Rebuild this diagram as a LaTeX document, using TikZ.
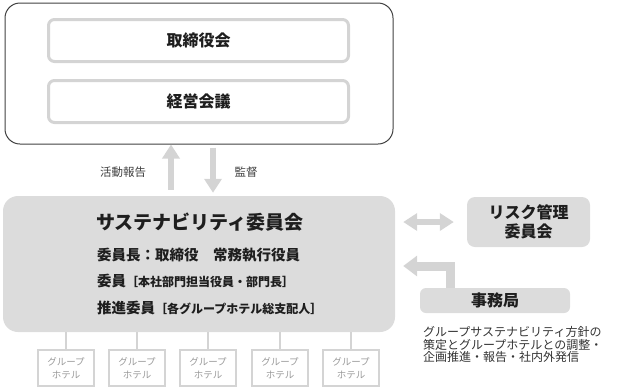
\documentclass[tikz,border=0pt]{standalone}
\usepackage{fontspec}
\setmainfont{Noto Sans CJK JP}
\usetikzlibrary{arrows.meta}
\definecolor{boxgray}{HTML}{DCDCDC}
\definecolor{linegray}{HTML}{D4D4D4}
\definecolor{textgray}{HTML}{9A9A9A}
\definecolor{ink}{HTML}{1E1E1E}
\newcommand{\fsz}[1]{\fontsize{#1}{#1}\selectfont}

\begin{document}
\begin{tikzpicture}[x=1pt, y=-1pt,
    frame/.style={draw=black!75, line width=1pt, rounded corners=15pt, minimum width=388pt, minimum height=141pt},
    meeting/.style={draw=linegray, line width=3pt, rounded corners=6pt, fill=white, minimum width=300pt, minimum height=42pt, font=\fsz{16}\bfseries, text=ink},
    panel/.style={fill=boxgray, rounded corners=15pt, inner sep=0pt},
    hotel/.style={draw=linegray, line width=2.5pt, fill=white, minimum width=56pt, minimum height=36pt, align=center, font=\fontsize{9.5}{13}\selectfont, text=textgray, inner sep=0pt},
    fatarrow/.style={-{Triangle[width=17pt,length=14pt]}, line width=6pt, draw=linegray},
    member/.style={anchor=west, inner sep=0pt, text=ink, font=\bfseries}
]
\useasboundingbox (0,0) rectangle (620,389);

% upper governance block
\node[frame] (board) at (199,73.5) {};
\node[meeting] (bod) at (198.5,40.5) {取締役会};
\node[meeting] (mgmt) at (198.5,101.5) {経営会議};

% sustainability committee
\node[panel, minimum width=392pt, minimum height=136pt] (sust) at (199,264) {};
\node[text=ink, font=\fsz{19}\bfseries] (sustitle) at (200,222) {サステナビリティ委員会};
\node[member] (chair) at (97,255) {\fsz{14.5}委員長：取締役　常務執行役員};
\node[member] (memb) at (97,281) {\fsz{14.5}委員\fsz{12}［本社部門担当役員・部門長］};
\node[member] (promo) at (97,308) {\fsz{14.5}推進委員\fsz{12}［各グループホテル総支配人］};

% right side
\node[panel, minimum width=123pt, minimum height=50pt, rounded corners=8pt, align=center, text=ink, font=\fontsize{16}{19}\selectfont\bfseries] (risk) at (528.5,222) {リスク管理\\委員会};
\node[panel, minimum width=150pt, minimum height=25pt, rounded corners=6pt, text=ink, font=\fsz{16}\bfseries] (office) at (495,300.5) {事務局};
\node[anchor=north west, align=left, inner sep=0pt, text=black!80, font=\fontsize{12}{12.8}\selectfont] (task) at (423,326)
  {グループサステナビリティ方針の\\策定とグループホテルとの調整・\\企画推進・報告・社内外発信};

% arrows
\draw[fatarrow] ([xshift=-28pt,yshift=6pt]sust.north) -- ([xshift=-28pt]board.south);
\draw[fatarrow] ([xshift=14pt,yshift=-3pt]board.south) -- ([xshift=14pt,yshift=3pt]sust.north);
\draw[fatarrow, {Triangle[width=17pt,length=14pt]}-{Triangle[width=17pt,length=14pt]}] ([xshift=8pt]sust.east |- risk.west) -- ([xshift=-13pt]risk.west);
\draw[fatarrow, line width=9pt, -{Triangle[width=20pt,length=14pt]}] ([xshift=-45pt]office.north) |- ([xshift=8pt,yshift=-2pt]sust.east);
\node[text=black!75, font=\fsz{11.5}] (report) at (123,172) {活動報告};
\node[text=black!75, font=\fsz{11.5}] (audit) at (246,172) {監督};

% group hotels
\foreach \x [count=\i] in {66,137,208,280,351} {
  \node[hotel] (h\i) at (\x,368) {グループ\\ホテル};
  \draw[linegray, line width=2.5pt] (h\i.north) -- (h\i.north |- sust.south);
}
\end{tikzpicture}
\end{document}
